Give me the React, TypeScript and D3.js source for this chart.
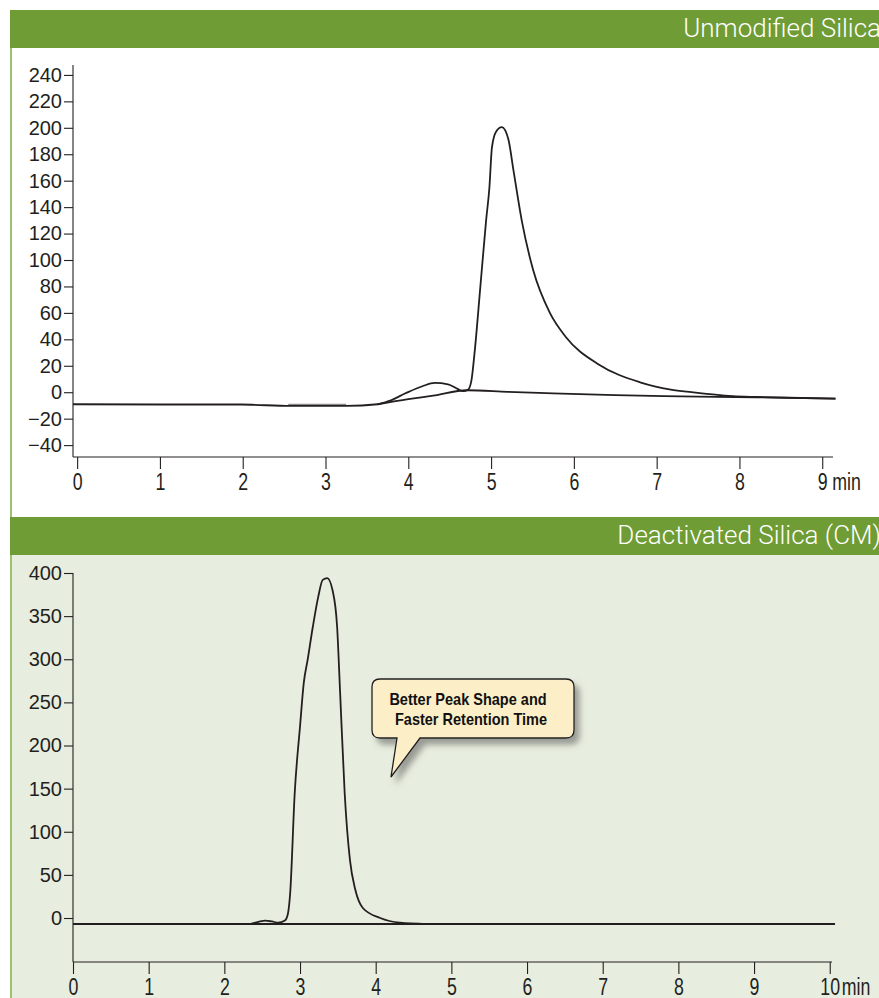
import React, { useRef, useEffect } from 'react'
import * as d3 from 'd3'

type Pt = [number, number]

// top panel: unmodified silica
const topTitle = 'Unmodified Silica'
const topTicksY = [-40, -20, 0, 20, 40, 60, 80, 100, 120, 140, 160, 180, 200, 220, 240]
const topTicksX = [0, 1, 2, 3, 4, 5, 6, 7, 8, 9]
const topTrace: Pt[] = [
  [-0.05, -9.1], [1, -9.3], [1.98, -9.3], [2.58, -10.4], [3.25, -10.4], [3.63, -9.1],
  [3.77, -6.6], [3.96, -1], [4.17, 4.5], [4.32, 7], [4.48, 6], [4.6, 2.3], [4.66, 0.8],
  [4.72, 1.8], [4.76, 8], [4.8, 29.5], [4.87, 79.5], [4.94, 130], [4.98, 155], [5.01, 185],
  [5.06, 197], [5.13, 200.5], [5.21, 191], [5.27, 168], [5.37, 130], [5.51, 92], [5.71, 60],
  [5.9, 42], [6.3, 21], [6.8, 7.5], [7.17, 2], [7.42, 0], [7.92, -3], [8.2, -3.6],
  [8.6, -4.2], [9.16, -4.8]
]
const topBaseline: Pt[] = [
  [3.63, -9.1], [4.0, -5.3], [4.3, -2.6], [4.71, 1.5], [5.2, 0.3], [5.75, -0.8],
  [6.5, -2.2], [7.09, -3], [8.2, -3.8], [9.16, -4.8]
]
const topGrey: Pt[] = [[2.55, -9.6], [3.25, -9.6]]

// bottom panel: deactivated silica
const bottomTitle = 'Deactivated Silica (CM)'
const bottomTicksY = [0, 50, 100, 150, 200, 250, 300, 350, 400]
const bottomTicksX = [0, 1, 2, 3, 4, 5, 6, 7, 8, 9, 10]
const bottomBaseline: Pt[] = [[0, -7], [10.07, -7]]
const bottomTrace: Pt[] = [
  [2.34, -7], [2.45, -4.5], [2.54, -3], [2.63, -4], [2.71, -5.4], [2.8, -3], [2.84, 5],
  [2.87, 29], [2.93, 145], [3.0, 222], [3.05, 273], [3.1, 299], [3.17, 338], [3.24, 372],
  [3.3, 392], [3.36, 394], [3.43, 380], [3.49, 338], [3.53, 261], [3.59, 145], [3.66, 67],
  [3.73, 33], [3.83, 11.6], [4.06, 0], [4.32, -5.4], [4.68, -7]
]
const calloutLines = ['Better Peak Shape and', 'Faster Retention Time']

const GREEN = '#6f9c34'
const EDGE = '#9dc26b'
const PANEL_BG = '#e8eedf'
const INK = '#231f20'

export default function App() {
  const svgRef = useRef<SVGSVGElement>(null)

  useEffect(() => {
    if (!svgRef.current) return
    const svg = d3.select(svgRef.current)
    svg.selectAll('*').remove()

    const defs = svg.append('defs')
    defs.append('filter')
      .attr('id', 'shadow')
      .attr('x', '-20%').attr('y', '-20%').attr('width', '150%').attr('height', '150%')
      .append('feDropShadow')
      .attr('dx', 5).attr('dy', 6).attr('stdDeviation', 3)
      .attr('flood-color', '#555').attr('flood-opacity', 0.55)

    // panel backgrounds
    svg.append('rect').attr('x', 0).attr('y', 0).attr('width', 879).attr('height', 998).attr('fill', '#fff')
    svg.append('rect').attr('x', 11).attr('y', 555).attr('width', 868).attr('height', 443).attr('fill', PANEL_BG)
    svg.append('rect').attr('x', 10).attr('y', 48).attr('width', 2).attr('height', 469).attr('fill', EDGE)
    svg.append('rect').attr('x', 10).attr('y', 555).attr('width', 2).attr('height', 443).attr('fill', EDGE)

    const headers = [
      { y: 10, title: topTitle },
      { y: 517, title: bottomTitle }
    ]
    headers.forEach(h => {
      svg.append('rect').attr('x', 10).attr('y', h.y).attr('width', 869).attr('height', 38).attr('fill', GREEN)
      svg.append('text')
        .attr('x', 881).attr('y', h.y + 27)
        .attr('text-anchor', 'end')
        .style('font-family', 'Roboto, "Liberation Sans", sans-serif')
        .style('font-weight', 300)
        .style('font-size', '26px')
        .style('fill', '#fff')
        .text(h.title)
    })

    const drawPanel = (
      x: d3.ScaleLinear<number, number>,
      y: d3.ScaleLinear<number, number>,
      ticksX: number[],
      ticksY: number[],
      series: { data: Pt[]; color: string; width: number }[]
    ) => {
      const g = svg.append('g')
      const [x0, x1] = x.range()
      const [y0, y1] = y.range()

      // y axis
      const yAxis = g.append('g')
        .attr('transform', `translate(${x0},0)`)
        .call(d3.axisLeft(y).tickValues(ticksY).tickSize(9).tickPadding(2).tickSizeOuter(0))
      yAxis.select('.domain').remove()
      yAxis.append('line').attr('x1', 0).attr('x2', 0).attr('y1', y0).attr('y2', y1)
      yAxis.selectAll('line').attr('stroke', INK).attr('stroke-width', 1.1)
      yAxis.selectAll('text')
        .style('font-family', '"Liberation Sans", Arial, sans-serif')
        .style('font-size', '20px')
        .attr('fill', INK)

      // x axis
      const xAxis = g.append('g')
        .attr('transform', `translate(0,${y0})`)
        .call(d3.axisBottom(x).tickValues(ticksX).tickSize(12).tickPadding(4).tickSizeOuter(0))
      xAxis.select('.domain').remove()
      xAxis.append('line').attr('x1', x0).attr('x2', x1).attr('y1', 0).attr('y2', 0)
      xAxis.selectAll('line').attr('stroke', INK).attr('stroke-width', 1.1)
      xAxis.selectAll('text')
        .style('font-family', '"Liberation Sans", Arial, sans-serif')
        .style('font-size', '24px')
        .attr('fill', INK)
        .attr('transform', 'scale(0.74,1)')
      const last = ticksX[ticksX.length - 1]
      const mx = x(last) + (last >= 10 ? 12 : 10)
      xAxis.append('text')
        .attr('x', 0).attr('y', 16).attr('dy', '0.71em')
        .attr('text-anchor', 'start')
        .attr('transform', `translate(${mx},0) scale(0.74,1)`)
        .style('font-family', '"Liberation Sans", Arial, sans-serif')
        .style('font-size', '24px')
        .attr('fill', INK)
        .text('min')

      const line = d3.line<Pt>().x(d => x(d[0])).y(d => y(d[1])).curve(d3.curveMonotoneX)
      series.forEach(s => {
        g.append('path')
          .attr('d', line(s.data))
          .attr('fill', 'none')
          .attr('stroke', s.color)
          .attr('stroke-width', s.width)
          .attr('stroke-linejoin', 'round')
      })
      return g
    }

    const xTop = d3.scaleLinear().domain([-0.05, 9.13]).range([73, 833])
    const yTop = d3.scaleLinear().domain([-49, 247.5]).range([457, 65])
    drawPanel(xTop, yTop, topTicksX, topTicksY, [
      { data: topBaseline, color: INK, width: 1.8 },
      { data: topGrey, color: '#8a8a8a', width: 2.2 },
      { data: topTrace, color: INK, width: 1.8 }
    ])

    const xBot = d3.scaleLinear().domain([0, 10.03]).range([73, 832])
    const yBot = d3.scaleLinear().domain([-51, 400]).range([962, 573])
    drawPanel(xBot, yBot, bottomTicksX, bottomTicksY, [
      { data: bottomBaseline, color: INK, width: 1.9 },
      { data: bottomTrace, color: INK, width: 1.8 }
    ])

    // callout bubble
    const bx = 372, by = 679, bw = 202, bh = 59, r = 8
    const tail = d3.path()
    tail.moveTo(bx + r, by)
    tail.lineTo(bx + bw - r, by)
    tail.quadraticCurveTo(bx + bw, by, bx + bw, by + r)
    tail.lineTo(bx + bw, by + bh - r)
    tail.quadraticCurveTo(bx + bw, by + bh, bx + bw - r, by + bh)
    tail.lineTo(420, by + bh)
    tail.lineTo(391, 777)
    tail.lineTo(397, by + bh)
    tail.lineTo(bx + r, by + bh)
    tail.quadraticCurveTo(bx, by + bh, bx, by + bh - r)
    tail.lineTo(bx, by + r)
    tail.quadraticCurveTo(bx, by, bx + r, by)
    tail.closePath()
    svg.append('path')
      .attr('d', tail.toString())
      .attr('fill', '#fcefc8')
      .attr('stroke', INK)
      .attr('stroke-width', 1.3)
      .attr('filter', 'url(#shadow)')

    calloutLines.forEach((t, i) => {
      svg.append('text')
        .attr('transform', `translate(${468 + i * 3},${705 + i * 20}) scale(0.88,1)`)
        .attr('text-anchor', 'middle')
        .style('font-family', '"Liberation Sans", Arial, sans-serif')
        .style('font-weight', 700)
        .style('font-size', '16.5px')
        .attr('fill', '#111')
        .text(t)
    })
  }, [])

  return (
    <svg
      ref={svgRef}
      width={879}
      height={998}
      style={{ position: 'absolute', left: 0, top: 0, display: 'block' }}
    />
  )
}
